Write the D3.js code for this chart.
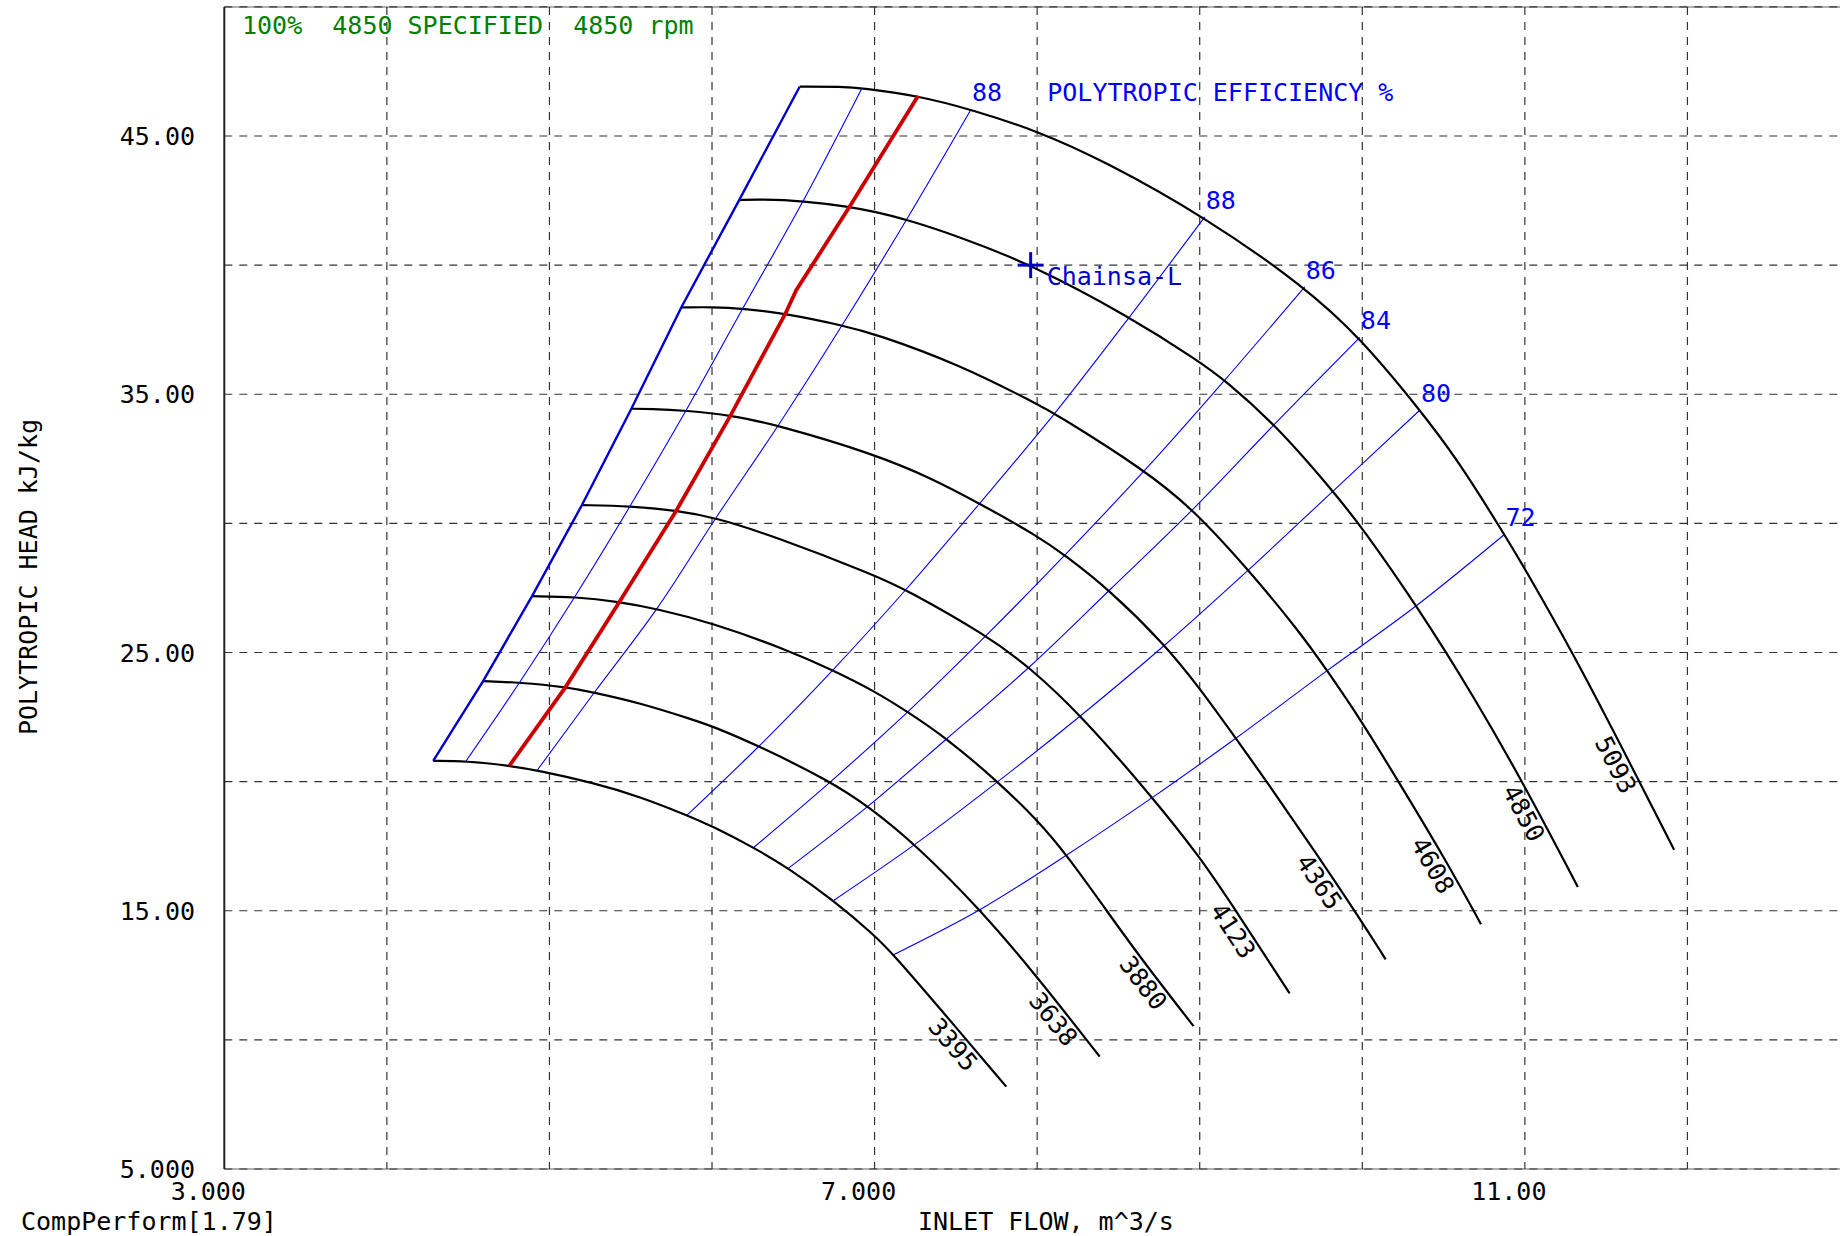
<!DOCTYPE html>
<html><head><meta charset="utf-8">
<script src="https://cdn.jsdelivr.net/npm/d3@7"></script>
<style>
html,body{margin:0;padding:0;background:#fff;}
svg{display:block;overflow:hidden;}
text{font-family:"DejaVu Sans Mono",monospace;font-size:25px;white-space:pre;}
</style></head><body>
<svg id="chart" width="1840" height="1236"></svg>
<script>
// ---------------- DATA ----------------
const xGridValues = [3,4,5,6,7,8,9,10,11,12,13];
const yGridValues = [5,10,15,20,25,30,35,40,45,50];
const xTickValues = [3,7,11];
const xTickLabels = ["3.000","7.000","11.00"];
const yTickValues = [5,15,25,35,45];
const yTickLabels = ["5.000","15.00","25.00","35.00","45.00"];

const speeds = [3395,3638,3880,4123,4365,4608,4850,5093];
// flow (m^3/s), head (kJ/kg)
const speed3395 = [[4.285,20.80],[4.487,20.80],[4.754,20.62],[4.925,20.44],[5.276,19.95],[5.556,19.42],[5.846,18.70],[6.0,18.28],[6.256,17.45],[6.471,16.65],[6.748,15.40],[7.0,14.05],[7.117,13.30],[7.404,11.20],[7.81,8.19]];
const speed3638 = [[4.592,23.89],[4.816,23.84],[5.10,23.67],[5.276,23.45],[5.556,23.05],[5.887,22.39],[6.0,22.15],[6.29,21.38],[6.73,20.0],[6.96,19.05],[7.25,17.58],[7.65,15.05],[8.0,12.45],[8.385,9.35]];
const speed3880 = [[4.893,27.18],[5.156,27.16],[5.43,26.96],[5.66,26.69],[6.0,26.15],[6.439,25.16],[6.743,24.32],[7.0,23.50],[7.204,22.70],[7.446,21.67],[7.758,20.0],[8.0,18.52],[8.182,17.16],[8.428,15.0],[8.633,13.2],[8.962,10.53]];
const speed4123 = [[5.20,30.71],[5.496,30.67],[5.781,30.50],[6.025,30.22],[6.373,29.52],[7.0,28.0],[7.193,27.44],[7.688,25.67],[7.952,24.44],[8.271,22.57],[8.71,19.39],[9.003,17.07],[9.223,15.0],[9.553,11.80]];
const speed4365 = [[5.504,34.44],[5.618,34.44],[5.84,34.37],[6.115,34.19],[6.408,33.80],[7.0,32.68],[7.35,31.75],[7.646,30.77],[8.0,29.52],[8.17,28.77],[8.446,27.42],[8.787,25.30],[9.002,23.60],[9.222,21.68],[9.416,19.97],[9.691,17.46],[9.98,14.75],[10.144,13.12]];
const speed4608 = [[5.811,38.36],[6.0,38.38],[6.189,38.32],[6.452,38.13],[6.80,37.67],[7.0,37.35],[7.523,36.15],[8.0,34.62],[8.108,34.26],[8.662,32.06],[8.959,30.55],[9.30,28.20],[9.615,25.80],[9.784,24.30],[10.0,22.30],[10.213,20.10],[10.515,16.95],[10.73,14.48]];
const speed4850 = [[6.167,42.52],[6.298,42.55],[6.561,42.49],[6.846,42.26],[7.0,42.07],[7.197,41.77],[7.522,41.10],[7.958,40.04],[8.569,38.0],[9.0,36.26],[9.154,35.55],[9.462,33.85],[9.82,31.25],[10.0,29.83],[10.334,26.82],[10.68,23.36],[10.997,19.87],[11.326,15.92]];
const speed5093 = [[6.539,46.91],[6.80,46.91],[6.923,46.86],[7.268,46.56],[7.593,46.03],[8.0,45.20],[8.405,44.06],[9.031,41.87],[9.646,39.16],[9.985,37.20],[10.355,34.39],[10.588,32.45],[10.874,29.57],[11.0,28.25],[11.307,24.85],[11.603,21.25],[11.918,17.36]];
const speedLabelFlow = [7.545,8.164,8.718,9.273,9.803,10.505,11.065,11.632];

const surgeLine = [[4.285,20.80],[4.592,23.89],[4.893,27.18],[5.20,30.71],[5.504,34.44],[5.811,38.36],[6.167,42.52],[6.539,46.91]];
const marginLine = [[4.487,20.80],[4.816,23.84],[5.156,27.16],[5.496,30.67],[5.84,34.37],[6.189,38.32],[6.561,42.49],[6.923,46.86]];
const controlLine = [[4.754,20.62],[5.10,23.67],[5.43,26.96],[5.781,30.50],[6.115,34.19],[6.452,38.13],[6.518,39.03],[6.846,42.26],[7.268,46.56]];

const effLabels = ["88   POLYTROPIC EFFICIENCY %","88","86","84","80","72"];
const eff88a = [[4.925,20.44],[5.276,23.45],[5.66,26.69],[6.025,30.22],[6.408,33.80],[6.80,37.67],[7.197,41.77],[7.593,46.03]];
const eff88b = [[5.846,18.70],[6.29,21.38],[6.743,24.32],[7.193,27.44],[7.646,30.77],[8.108,34.26],[8.569,38.0],[9.031,41.87]];
const eff86 = [[6.256,17.45],[6.73,20.0],[7.204,22.70],[7.688,25.67],[8.17,28.77],[8.662,32.06],[9.154,35.55],[9.646,39.16]];
const eff84 = [[6.471,16.65],[6.96,19.05],[7.446,21.67],[7.952,24.44],[8.446,27.42],[8.959,30.55],[9.462,33.85],[9.985,37.20]];
const eff80 = [[6.748,15.40],[7.25,17.58],[7.758,20.0],[8.271,22.57],[8.787,25.30],[9.30,28.20],[9.82,31.25],[10.355,34.39]];
const eff72 = [[7.117,13.30],[7.65,15.05],[8.182,17.16],[8.71,19.39],[9.222,21.68],[9.784,24.30],[10.334,26.82],[10.874,29.57]];

const designPoint = [7.96,40.0];
const designLabel = "Chainsa-L";
const titleText = "100%  4850 SPECIFIED  4850 rpm";
const xTitle = "INLET FLOW, m^3/s";
const yTitle = "POLYTROPIC HEAD kJ/kg";
const footerText = "CompPerform[1.79]";

// ---------------- CHART ----------------
const speedLines = [speed3395,speed3638,speed3880,speed4123,speed4365,speed4608,speed4850,speed5093];
const effLines = [eff88a,eff88b,eff86,eff84,eff80,eff72];

const svg = d3.select("#chart");
const x = d3.scaleLinear().domain([3,13]).range([224.3,1850]);
const y = d3.scaleLinear().domain([5,50]).range([1169,6.9]);

const smooth = d3.line().x(d=>x(d[0])).y(d=>y(d[1])).curve(d3.curveCatmullRom.alpha(0.5));
const basis = d3.line().x(d=>x(d[0])).y(d=>y(d[1])).curve(d3.curveBasis);
const straight = d3.line().x(d=>x(d[0])).y(d=>y(d[1]));

// frame (light) and grid
const g = svg.append("g");
g.append("line").attr("x1",x(3)).attr("x2",x(13)).attr("y1",y(50)).attr("y2",y(50)).attr("stroke","#b0b0b0").attr("stroke-width",2);
g.append("line").attr("x1",x(3)).attr("x2",x(13)).attr("y1",y(5)).attr("y2",y(5)).attr("stroke","#b0b0b0").attr("stroke-width",2);
g.selectAll(".vg").data(xGridValues.slice(1)).join("line")
  .attr("x1",d=>x(d)).attr("x2",d=>x(d)).attr("y1",y(50)).attr("y2",y(5))
  .attr("stroke","#333").attr("stroke-width",1.2).attr("stroke-dasharray","8,7");
g.selectAll(".hg").data(yGridValues).join("line")
  .attr("x1",x(3)).attr("x2",x(13)).attr("y1",d=>y(d)).attr("y2",d=>y(d))
  .attr("stroke","#333").attr("stroke-width",1.2).attr("stroke-dasharray","8,7");
g.append("line").attr("x1",x(3)).attr("x2",x(3)).attr("y1",y(50)).attr("y2",y(5)).attr("stroke","#222").attr("stroke-width",2);

// tick labels
svg.selectAll(".xt").data(xTickValues).join("text")
  .attr("x",d=>x(d)-16).attr("y",1200).attr("text-anchor","middle").attr("fill","#000")
  .text((d,i)=>xTickLabels[i]);
svg.selectAll(".yt").data(yTickValues).join("text")
  .attr("x",195).attr("y",d=>y(d)+9).attr("text-anchor","end").attr("fill","#000")
  .text((d,i)=>yTickLabels[i]);

// efficiency lines
svg.selectAll(".eff").data(effLines).join("path")
  .attr("d",smooth).attr("fill","none").attr("stroke","#0000ff").attr("stroke-width",1.1);

// speed lines
const sp = svg.selectAll(".spd").data(speedLines).join("path")
  .attr("d",basis).attr("fill","none").attr("stroke","#000").attr("stroke-width",2.2);

// surge & margin lines
svg.append("path").datum(marginLine).attr("d",smooth).attr("fill","none").attr("stroke","#0000ff").attr("stroke-width",1.1);
svg.append("path").datum(surgeLine).attr("d",straight).attr("fill","none").attr("stroke","#0000cc").attr("stroke-width",2.4);
svg.append("path").datum(controlLine).attr("d",straight).attr("fill","none").attr("stroke","#cc0000").attr("stroke-width",3.8);

// efficiency labels
svg.selectAll(".effl").data(effLines).join("text")
  .attr("x",d=>x(d[d.length-1][0])+1).attr("y",d=>y(d[d.length-1][1])-8)
  .attr("fill","#0000ff").text((d,i)=>effLabels[i]);

// speed labels along curves
sp.each(function(d,i){
  const node = this;
  const L = node.getTotalLength();
  const px = x(speedLabelFlow[i]);
  let lo=0, hi=L;
  for(let k=0;k<40;k++){const m=(lo+hi)/2; if(node.getPointAtLength(m).x<px) lo=m; else hi=m;}
  const p = node.getPointAtLength(lo);
  const p1 = node.getPointAtLength(Math.max(0,lo-20));
  const p2 = node.getPointAtLength(Math.min(L,lo+20));
  const ang = Math.atan2(p2.y-p1.y,p2.x-p1.x)*180/Math.PI;
  svg.append("text").attr("transform",`translate(${p.x},${p.y}) rotate(${ang})`)
    .attr("x",0).attr("y",22).attr("text-anchor","middle").attr("fill","#000").text(speeds[i]);
});

// design point
const dx = x(designPoint[0]), dy = y(designPoint[1]);
svg.append("line").attr("x1",dx-13).attr("x2",dx+13).attr("y1",dy).attr("y2",dy).attr("stroke","#0000cc").attr("stroke-width",3);
svg.append("line").attr("x1",dx).attr("x2",dx).attr("y1",dy-13).attr("y2",dy+13).attr("stroke","#0000cc").attr("stroke-width",3);
svg.append("text").attr("x",dx+16).attr("y",dy+20).attr("fill","#0000cc").text(designLabel);

// titles
svg.append("text").attr("x",242).attr("y",34).attr("fill","#008000").text(titleText);
svg.append("text").attr("x",918).attr("y",1230).attr("fill","#000").text(xTitle);
svg.append("text").attr("x",21).attr("y",1230).attr("fill","#000").text(footerText);
svg.append("text").attr("transform","translate(37,577) rotate(-90)").attr("text-anchor","middle").attr("fill","#000").text(yTitle);
</script>
</body></html>
